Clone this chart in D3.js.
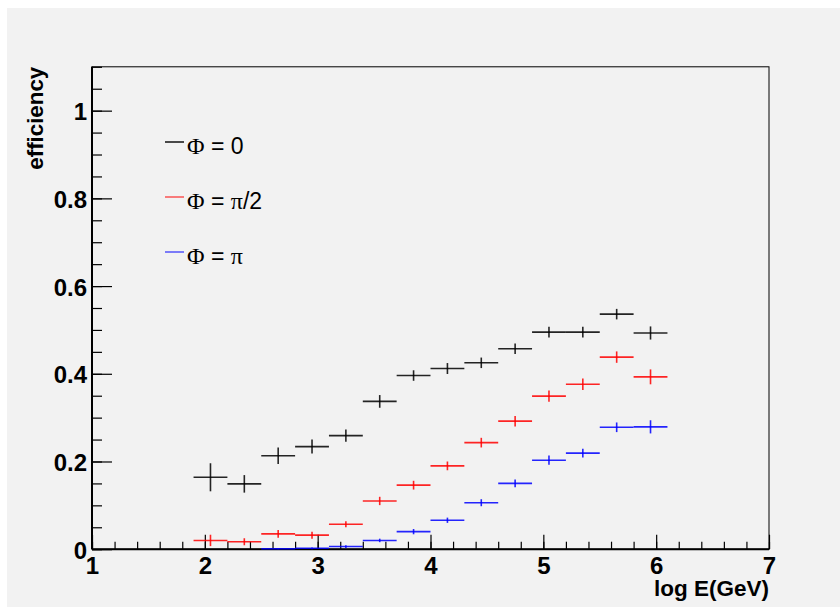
<!DOCTYPE html>
<html>
<head>
<meta charset="utf-8">
<script src="https://cdn.jsdelivr.net/npm/d3@7"></script>
<style>
  html, body { margin: 0; padding: 0; background: #ffffff; }
  svg { display: block; }
  text { font-family: "Liberation Sans", Arial, Helvetica, sans-serif; }
</style>
</head>
<body>
<svg id="chart" width="840" height="607"></svg>
<script>
// ---- data ----
const binCenters = [2.05, 2.35, 2.65, 2.95, 3.25, 3.55, 3.85, 4.15, 4.45, 4.75, 5.05, 5.35, 5.65, 5.95];
const binHalfWidth = 0.15;
const effPhi0 = [0.164, 0.149, 0.213, 0.234, 0.259, 0.337, 0.396, 0.412, 0.425, 0.457, 0.495, 0.495, 0.536, 0.493];
const errPhi0 = [0.032, 0.020, 0.019, 0.016, 0.014, 0.0145, 0.012, 0.0125, 0.012, 0.012, 0.012, 0.012, 0.012, 0.015];
const effPhiHalfPi = [0.020, 0.017, 0.035, 0.032, 0.057, 0.110, 0.146, 0.190, 0.243, 0.292, 0.349, 0.376, 0.438, 0.393];
const errPhiHalfPi = [0.013, 0.008, 0.009, 0.008, 0.007, 0.0095, 0.010, 0.010, 0.011, 0.012, 0.013, 0.013, 0.013, 0.017];
const effPhiPi = [null, null, 0.001, 0.002, 0.006, 0.020, 0.040, 0.066, 0.106, 0.150, 0.203, 0.219, 0.278, 0.279];
const errPhiPi = [0, 0, 0.002, 0.002, 0.003, 0.004, 0.006, 0.006, 0.008, 0.0087, 0.0106, 0.010, 0.011, 0.015];
// legend labels split into [greek, text] pieces
const seriesNames = [
  [["Φ", true], [" = 0", false]],
  [["Φ", true], [" = ", false], ["π", true], ["/2", false]],
  [["Φ", true], [" = ", false], ["π", true]]
];
const seriesColors = ["#000000", "#ff0000", "#0000ff"];
const xTickValues = [1, 2, 3, 4, 5, 6, 7];
const yTickValues = [0, 0.2, 0.4, 0.6, 0.8, 1];
const xTitle = "log E(GeV)";
const yTitle = "efficiency";

// ---- layout ----
const W = 840, H = 607;
const L = 92, R = 769, T = 66.8, B = 549.2;
const svg = d3.select("#chart");

svg.append("rect").attr("x", 7).attr("y", 8).attr("width", W - 7).attr("height", H - 8).attr("fill", "#f2f2f2");

const x = d3.scaleLinear().domain([1, 7]).range([L, R]);
const y = d3.scaleLinear().domain([0, 1.1]).range([B, T]);

// frame
svg.append("rect").attr("x", L).attr("y", T).attr("width", R - L).attr("height", B - T)
  .attr("fill", "none").attr("stroke", "#000").attr("stroke-width", 1);

// x axis: minor then major
const xMinor = d3.range(1, 7.0001, 0.2).map(v => +v.toFixed(2));
svg.append("g").attr("transform", `translate(0,${B})`)
  .call(d3.axisBottom(x).tickValues(xMinor).tickSize(-7.5).tickFormat(""))
  .call(g => g.select(".domain").remove())
  .selectAll("line").attr("stroke", "#000").attr("stroke-width", 1.2);
const gx = svg.append("g").attr("transform", `translate(0,${B})`)
  .call(d3.axisBottom(x).tickValues(xTickValues).tickSize(-14.5).tickFormat(d3.format("d")));
gx.select(".domain").remove();
gx.selectAll("line").attr("stroke", "#000").attr("stroke-width", 1.2);
gx.selectAll("text").attr("font-size", 24).attr("font-weight", "bold").attr("fill", "#000")
  .attr("y", 25).attr("dy", 0);

// y axis
const yMinor = d3.range(0, 1.1001, 0.05).map(v => +v.toFixed(3));
svg.append("g").attr("transform", `translate(${L},0)`)
  .call(d3.axisLeft(y).tickValues(yMinor).tickSize(-10).tickFormat(""))
  .call(g => g.select(".domain").remove())
  .selectAll("line").attr("stroke", "#000").attr("stroke-width", 1.2);
const gy = svg.append("g").attr("transform", `translate(${L},0)`)
  .call(d3.axisLeft(y).tickValues(yTickValues).tickSize(-20).tickPadding(5).tickFormat(d => d === 0 ? "0" : d === 1 ? "1" : d3.format(".1f")(d)));
gy.select(".domain").remove();
gy.selectAll("line").attr("stroke", "#000").attr("stroke-width", 1.2);
gy.selectAll("text").attr("font-size", 24).attr("font-weight", "bold").attr("fill", "#000").attr("dy", "0.38em");

// axis lines (thicker)
svg.append("line").attr("x1", L).attr("x2", R).attr("y1", B).attr("y2", B).attr("stroke", "#000").attr("stroke-width", 2);
svg.append("line").attr("x1", L).attr("x2", L).attr("y1", T).attr("y2", B).attr("stroke", "#000").attr("stroke-width", 2);

// axis titles
svg.append("text").attr("x", R).attr("y", 596).attr("text-anchor", "end")
  .attr("font-size", 22.5).attr("font-weight", "bold").text(xTitle);
svg.append("text").attr("transform", `translate(43,${T}) rotate(-90)`).attr("text-anchor", "end")
  .attr("font-size", 22.3).attr("font-weight", "bold").text(yTitle);

// data series
const series = [
  { vals: effPhi0, errs: errPhi0 },
  { vals: effPhiHalfPi, errs: errPhiHalfPi },
  { vals: effPhiPi, errs: errPhiPi }
];
series.forEach((s, si) => {
  const pts = binCenters.map((c, i) => ({ c, v: s.vals[i], e: s.errs[i] })).filter(d => d.v !== null);
  const g = svg.append("g").attr("stroke", seriesColors[si]).attr("stroke-width", 1.6).attr("stroke-opacity", 0.85);
  g.selectAll("line.h").data(pts).join("line").attr("class", "h")
    .attr("x1", d => x(d.c - binHalfWidth)).attr("x2", d => x(d.c + binHalfWidth))
    .attr("y1", d => y(d.v)).attr("y2", d => y(d.v));
  g.selectAll("line.v").data(pts.filter(d => d.e > 0)).join("line").attr("class", "v")
    .attr("x1", d => x(d.c)).attr("x2", d => x(d.c))
    .attr("y1", d => y(Math.max(0, d.v - d.e))).attr("y2", d => y(d.v + d.e));
});

// legend
const legY = [142, 197, 252];
seriesNames.forEach((parts, i) => {
  svg.append("line").attr("x1", 165).attr("x2", 184).attr("y1", legY[i]).attr("y2", legY[i])
    .attr("stroke", seriesColors[i]).attr("stroke-width", 1.4).attr("stroke-opacity", i === 0 ? 1 : 0.7);
  const t = svg.append("text").attr("x", 187).attr("y", legY[i] + 12).attr("font-size", 23).attr("fill", "#000");
  parts.forEach(([s, greek]) => {
    const ts = t.append("tspan").text(s);
    if (greek) ts.attr("font-family", "'Liberation Serif', 'DejaVu Serif', serif").attr("font-size", 24);
  });
});
</script>
</body>
</html>
